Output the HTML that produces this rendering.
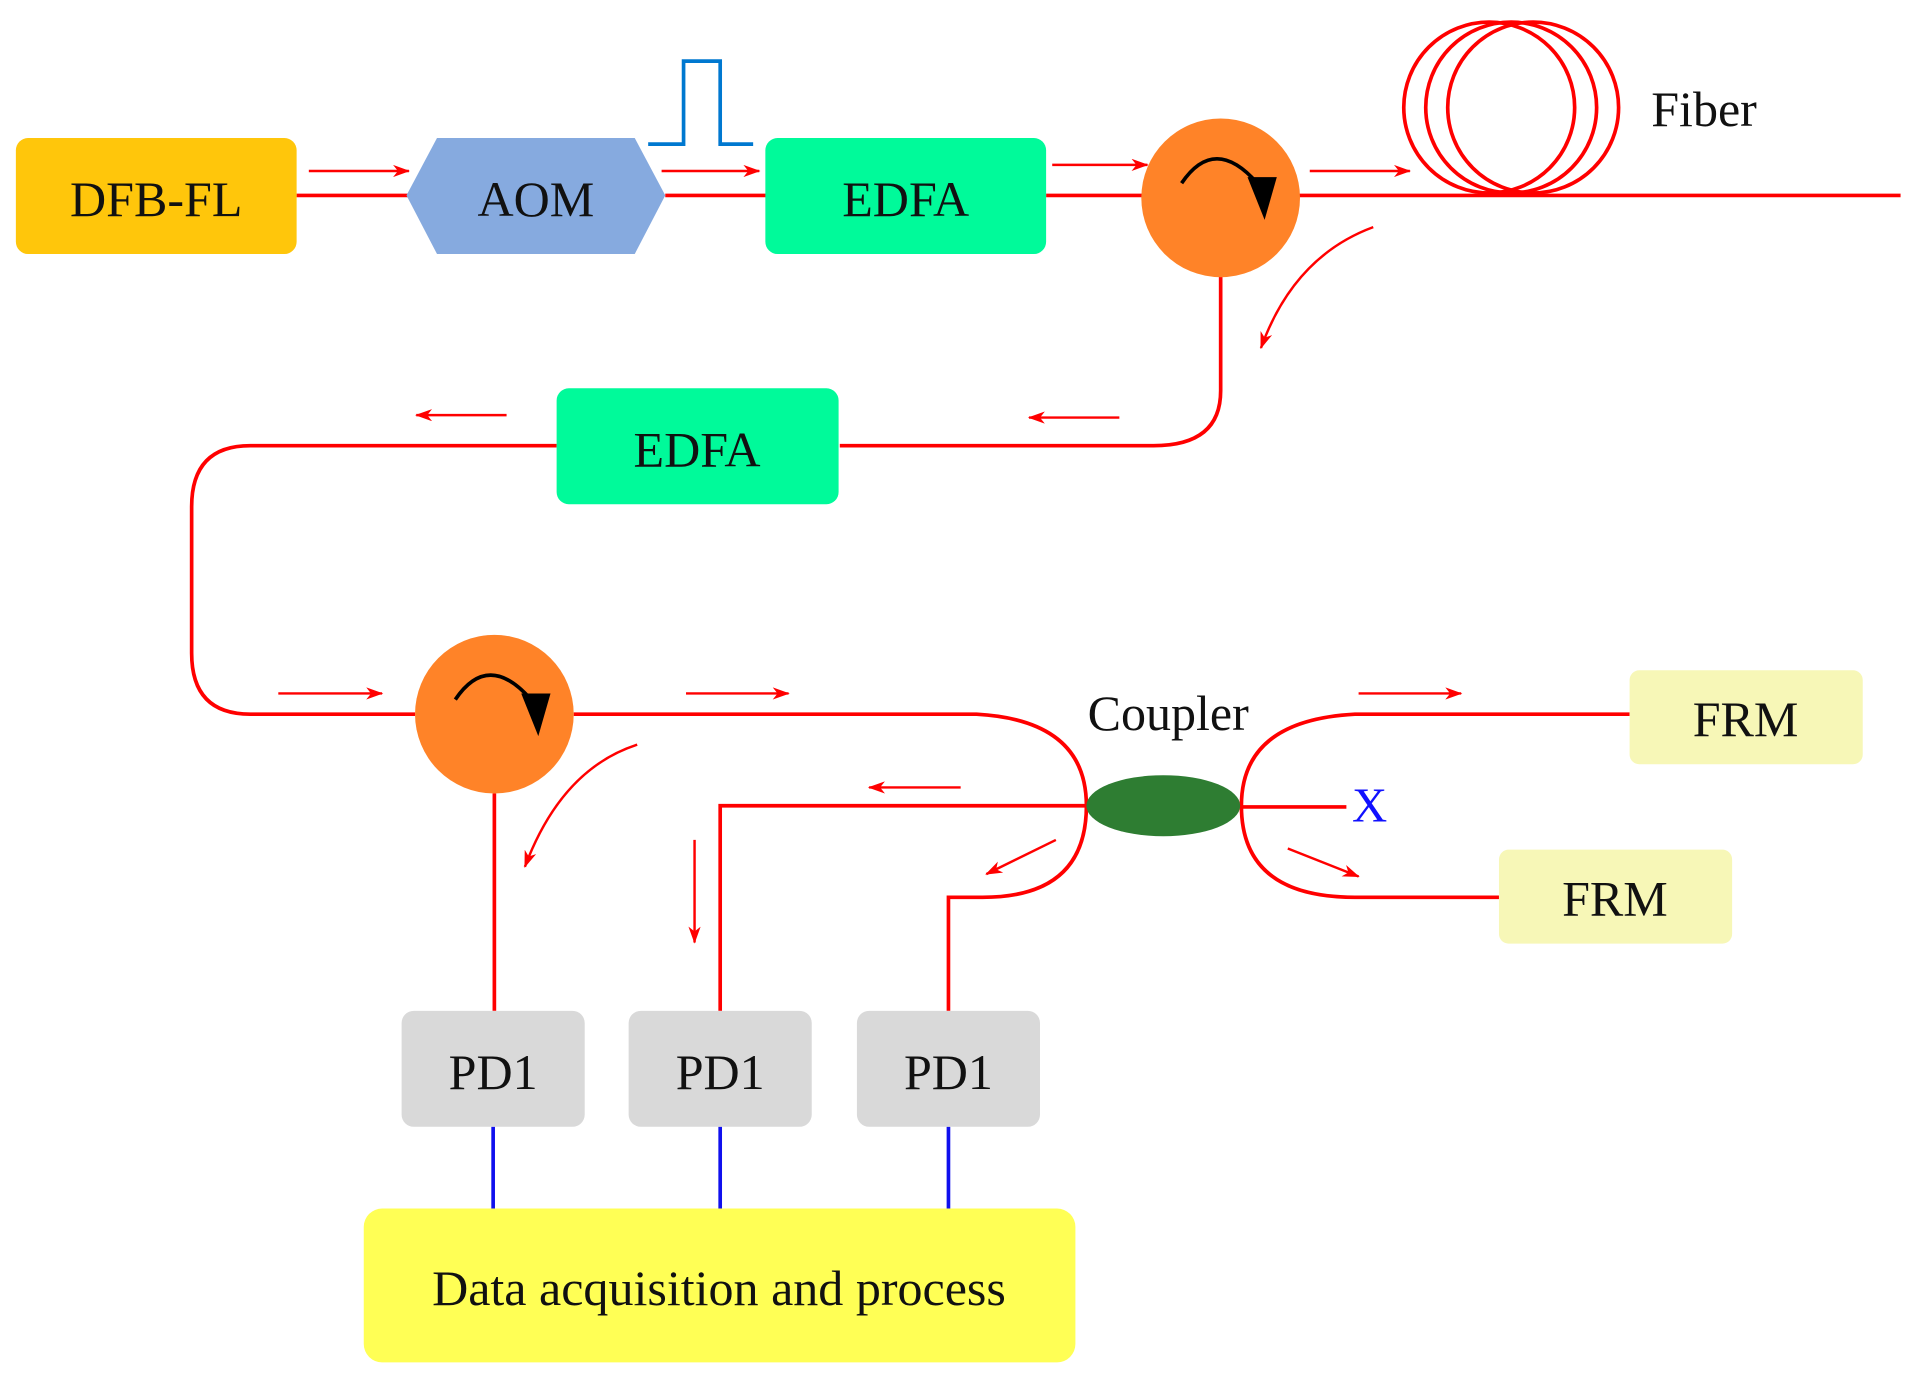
<!DOCTYPE html>
<html><head><meta charset="utf-8"><style>
html,body{margin:0;padding:0;background:#fff;}
svg{display:block;}
text{font-family:"Liberation Serif",serif;font-size:41px;fill:#111;text-anchor:middle;}
</style></head><body>
<svg width="1914" height="1382" viewBox="0 0 1568 1132" xmlns="http://www.w3.org/2000/svg">
<defs>
<marker id="a" markerWidth="14" markerHeight="10" refX="13" refY="5" orient="auto" markerUnits="userSpaceOnUse">
<path d="M0,0 L14,5 L0,10 L4,5 Z" fill="#f00"/>
</marker>
</defs>
<g fill="none" stroke="#f00" stroke-width="3">
<line x1="243" y1="160" x2="335" y2="160"/>
<line x1="545" y1="160" x2="628" y2="160"/>
<line x1="857" y1="160" x2="936" y2="160"/>
<line x1="1064" y1="160" x2="1557" y2="160"/>
<circle cx="1220" cy="88" r="70"/>
<circle cx="1238" cy="88" r="70"/>
<circle cx="1256" cy="88" r="70"/>
<path d="M1000,225 L1000,320 Q1000,365 945,365 L688,365"/>
<path d="M456,365 L205,365 Q157,365 157,415 L157,535 Q157,585 205,585 L340,585"/>
<path d="M470,585 L800,585 Q890,590 890,660 Q890,735 805,735 L777,735 L777,828"/>
<path d="M890,660 L590,660 L590,828"/>
<line x1="405" y1="650" x2="405" y2="828"/>
<path d="M1335,585 L1110,585 Q1017,590 1017,660 Q1017,735 1110,735 L1228,735"/>
<line x1="1017" y1="661" x2="1103" y2="661"/>
</g>
<g stroke="#f00" stroke-width="2" fill="none" marker-end="url(#a)">
<line x1="253" y1="140" x2="335" y2="140"/>
<line x1="542" y1="140" x2="622" y2="140"/>
<line x1="862" y1="135" x2="940" y2="135"/>
<line x1="1073" y1="140" x2="1155" y2="140"/>
<path d="M1125,186 Q1060,210 1033,285"/>
<line x1="917" y1="342" x2="843" y2="342"/>
<line x1="415" y1="340" x2="341" y2="340"/>
<line x1="228" y1="568" x2="313" y2="568"/>
<line x1="562" y1="568" x2="646" y2="568"/>
<line x1="1113" y1="568" x2="1197" y2="568"/>
<line x1="1055" y1="695" x2="1113" y2="718"/>
<line x1="787" y1="645" x2="712" y2="645"/>
<line x1="865" y1="688" x2="808" y2="716"/>
<line x1="569" y1="688" x2="569" y2="772"/>
<path d="M522,610 Q460,630 430,710"/>
</g>
<rect x="13" y="113" width="230" height="95" rx="10" fill="#FFC60B"/>
<text x="128" y="177">DFB-FL</text>
<polygon points="333,160 358,113 520,113 545,160 520,208 358,208" fill="#86AADF"/>
<text x="439" y="177">AOM</text>
<polyline points="531,118 560,118 560,50 590,50 590,118 617,118" fill="none" stroke="#0078D0" stroke-width="3"/>
<rect x="627" y="113" width="230" height="95" rx="10" fill="#00FA9A"/>
<text x="742" y="177">EDFA</text>
<rect x="456" y="318" width="231" height="95" rx="10" fill="#00FA9A"/>
<text x="571" y="382">EDFA</text>
<circle cx="1000" cy="162" r="65" fill="#FF8328"/>
<path d="M968,150 Q995,110 1030,150" fill="none" stroke="#000" stroke-width="3"/>
<polygon points="1022,145 1046,145 1036,180" fill="#000"/>
<circle cx="405" cy="585" r="65" fill="#FF8328"/>
<path d="M373,573 Q400,533 435,573" fill="none" stroke="#000" stroke-width="3"/>
<polygon points="427,568 451,568 441,603" fill="#000"/>
<text x="1396" y="103">Fiber</text>
<text x="957" y="598">Coupler</text>
<ellipse cx="953" cy="660" rx="63" ry="25" fill="#2E7D32"/>
<text x="1122" y="673" style="fill:#1010FF;font-size:40px">X</text>
<rect x="1335" y="549" width="191" height="77" rx="8" fill="#F7F7B7"/>
<text x="1430" y="603">FRM</text>
<rect x="1228" y="696" width="191" height="77" rx="8" fill="#F7F7B7"/>
<text x="1323" y="750">FRM</text>
<g stroke="#1010EE" stroke-width="3">
<line x1="404" y1="923" x2="404" y2="990"/>
<line x1="590" y1="923" x2="590" y2="990"/>
<line x1="777" y1="923" x2="777" y2="990"/>
</g>
<rect x="329" y="828" width="150" height="95" rx="10" fill="#D9D9D9"/>
<rect x="515" y="828" width="150" height="95" rx="10" fill="#D9D9D9"/>
<rect x="702" y="828" width="150" height="95" rx="10" fill="#D9D9D9"/>
<text x="404" y="892">PD1</text>
<text x="590" y="892">PD1</text>
<text x="777" y="892">PD1</text>
<rect x="298" y="990" width="583" height="126" rx="15" fill="#FFFF55"/>
<text x="589" y="1069">Data acquisition and process</text>
</svg>
</body></html>
